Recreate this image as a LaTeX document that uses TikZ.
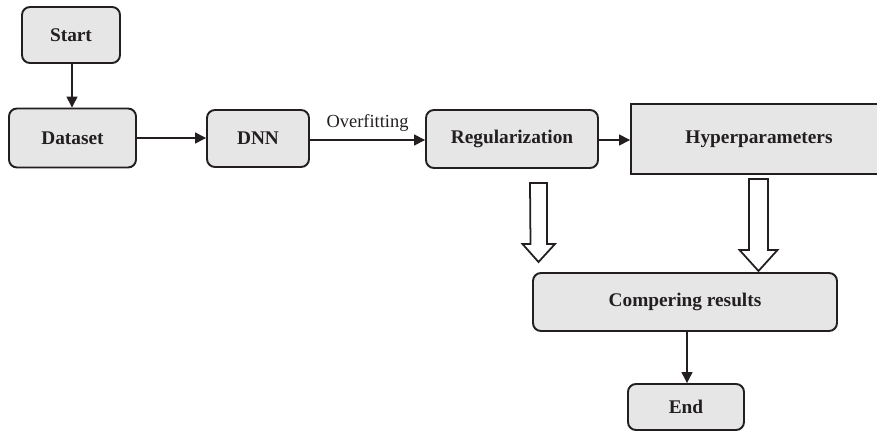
\documentclass[tikz,border=0pt]{standalone}
\usepackage{fontspec}
\setmainfont{Liberation Serif}
\usepackage{xcolor}
\usepackage{tikz}
\usetikzlibrary{arrows.meta, positioning, calc}

\definecolor{boxfill}{HTML}{E6E6E6}
\definecolor{linedark}{HTML}{231F20}

\begin{document}
\begin{tikzpicture}[
    x=0.02cm, y=-0.02cm,
    every node/.style={font=\fontsize{11}{13}\selectfont\bfseries, text=linedark},
    block/.style={rectangle, draw=linedark, fill=boxfill, line width=1.1pt, align=center, rounded corners=4.5pt, inner sep=0pt},
    plainblock/.style={rectangle, draw=linedark, fill=boxfill, line width=1.1pt, align=center, inner sep=0pt},
    arrow/.style={-{Triangle[length=2.2mm, width=2.2mm]}, line width=0.8pt, draw=linedark},
    hollow/.style={draw=linedark, fill=white, line width=1pt, line join=miter}
]
\useasboundingbox (0,0) rectangle (877,432);

\node[block, minimum width=1.96cm, minimum height=1.12cm] (start) at (71,35) {Start};
\node[block, minimum width=2.54cm, minimum height=1.18cm] (dataset) at (72.5,138) {Dataset};
\node[block, minimum width=2.04cm, minimum height=1.14cm] (dnn) at (258,138.5) {DNN};
\node[block, minimum width=3.44cm, minimum height=1.16cm] (reg) at (512,139) {Regularization};
\node[plainblock, minimum width=5.4cm, minimum height=1.40cm] (hyper) at (766,139) {};
\node (hypertext) at (759,139) {Hyperparameters};
\node[block, minimum width=6.08cm, minimum height=1.16cm] (compare) at (685,302) {Compering results};
\node[block, minimum width=2.32cm, minimum height=0.92cm] (end) at (686,407) {End};

\draw[arrow] (start.south -| 72,0) -- (dataset.north -| 72,0);
\draw[arrow] (dataset.east |- 0,138) -- (dnn.west |- 0,138);
\draw[arrow] (dnn.east |- 0,140) -- node[above, font=\fontsize{10.5}{12}\selectfont, yshift=1pt] (ovf) {Overfitting} (reg.west |- 0,140);
\draw[arrow] (reg.east |- 0,140) -- (hyper.west |- 0,140);
\draw[arrow] (compare.south -| 687,0) -- (end.north -| 687,0);

% hollow arrows down to the comparison
\coordinate (regdown) at (538.5,183);
\coordinate (hypdown) at (758.5,179);
\draw[hollow] (regdown) ++(-8.5,0) -- ++(17,0) -- ++(0,61) -- ++(8,0) -- ($(regdown)+(0,79)$) -- ++(-16,-18) -- ++(8,0) -- cycle;
\draw[hollow] (hypdown) ++(-9.5,0) -- ++(19,0) -- ++(0,71) -- ++(9.5,0) -- ($(hypdown)+(0,92)$) -- ++(-19,-21) -- ++(9.5,0) -- cycle;

\end{tikzpicture}
\end{document}
